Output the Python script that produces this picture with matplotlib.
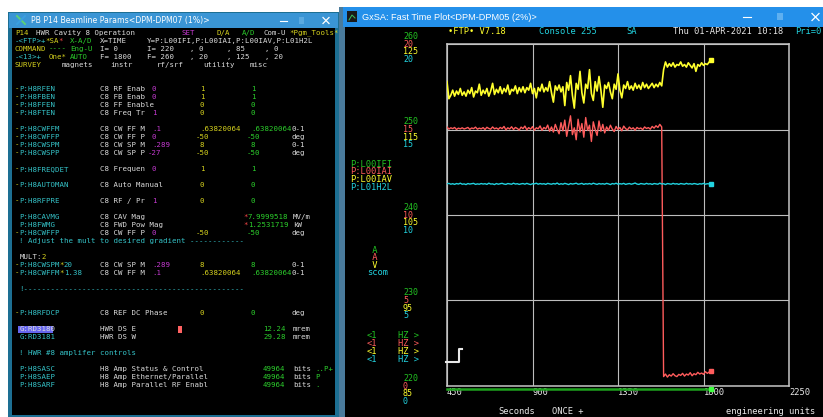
"""HWR cavity 8 parameter page beside the fast time plot of the L00 signals."""

import matplotlib.pyplot as plt
import numpy as np
from matplotlib import transforms
from matplotlib.patches import Rectangle

W_PX, H_PX = 823, 417
MONO = "DejaVu Sans Mono"

# Fast time plot samples, one every 10 s from t = 450 s
TIME_START = 450.0
TIME_STEP = 10.0

IAV_VOLTS = [
    120.6, 118.6, 119.0, 119.6, 118.9, 119.5, 119.1, 119.8, 119.0, 119.4,
    118.9, 119.6, 119.2, 119.9, 118.8, 119.5, 119.3, 120.3, 119.0, 119.6,
    119.2, 119.8, 118.9, 119.5, 120.4, 119.1, 119.7, 119.3, 120.0, 119.2,
    119.8, 119.4, 120.2, 119.1, 119.7, 119.5, 120.1, 119.2, 119.9, 119.4,
    120.0, 119.3, 119.9, 119.6, 120.4, 119.2, 119.8, 118.7, 119.9, 119.5,
    120.3, 119.4, 119.9, 119.5, 120.6, 119.3, 118.2, 120.1, 119.6, 120.2,
    119.4, 120.0, 117.8, 120.5, 119.6, 121.3, 119.0, 117.5, 120.4, 119.7,
    121.8, 119.3, 118.1, 120.3, 119.8, 122.0, 119.2, 118.4, 120.6, 119.5,
    121.2, 119.6, 117.6, 120.2, 119.8, 120.5, 119.4, 118.6, 120.3, 119.7,
    121.5, 119.6, 118.7, 120.2, 119.8, 120.6, 119.7, 120.1, 119.6, 120.4,
    119.8, 120.2, 119.7, 120.5, 119.9, 120.3, 119.8, 120.1, 120.4, 119.9,
    120.3, 120.0, 120.5, 120.1,
    122.0, 122.9, 122.3, 122.7, 122.4, 122.8, 122.3, 122.6, 122.5, 122.9,
    122.4, 122.6, 122.3, 122.8, 122.5, 122.2, 122.7, 121.8, 122.6, 122.4,
    122.8, 122.5, 122.7, 122.6, 122.9, 123.1,
]

IAI_AMPS = [
    15.15, 15.02, 15.10, 15.05, 15.12, 15.00, 15.08, 15.04, 15.10, 15.03,
    15.07, 15.12, 15.01, 15.09, 15.05, 15.14, 15.02, 15.08, 15.04, 15.11,
    15.00, 15.13, 15.06, 15.02, 15.15, 15.04, 15.09, 15.01, 15.12, 15.05,
    15.18, 14.98, 15.10, 15.03, 15.16, 15.00, 15.12, 15.06, 14.97, 15.14,
    15.05, 15.20, 14.98, 15.11, 15.02, 15.17, 14.96, 15.10, 15.04, 15.21,
    14.95, 15.12, 15.03, 15.26, 14.90, 15.15, 14.85, 15.30, 15.00, 14.75,
    15.40, 14.92, 15.55, 14.60, 15.20, 15.80, 14.70, 15.10, 14.40, 15.60,
    14.85, 15.35, 14.55, 15.70, 14.95, 15.25, 14.30, 15.45, 15.00, 14.65,
    15.50, 14.90, 15.30, 14.80, 15.15, 14.95, 15.25, 15.02, 14.88, 15.18,
    15.00, 15.12, 14.92, 15.20, 15.05, 14.98, 15.14, 15.03, 15.10, 14.96,
    15.12, 15.04, 15.09, 14.99, 15.15, 15.06, 15.11, 15.02, 15.18, 15.08,
    15.22, 15.12, 15.30, 15.15,
    0.55, 0.70, 0.52, 0.66, 0.58, 0.72, 0.60, 0.55, 0.68, 0.62,
    0.74, 0.58, 0.70, 0.64, 0.78, 0.60, 0.72, 0.66, 0.80, 0.70,
    0.76, 0.68, 0.84, 0.74, 0.82, 0.90,
]

H2L_SCOM = [
    11.82, 11.85, 11.80, 11.83, 11.79, 11.84, 11.81, 11.86, 11.80, 11.82,
    11.78, 11.84, 11.81, 11.83, 11.85, 11.79, 11.82, 11.80, 11.84, 11.81,
    11.83, 11.79, 11.86, 11.81, 11.82, 11.78, 11.84, 11.80, 11.83, 11.85,
    11.81, 11.79, 11.84, 11.82, 11.80, 11.86, 11.81, 11.83, 11.79, 11.82,
    11.84, 11.80, 11.85, 11.81, 11.78, 11.83, 11.82, 11.86, 11.80, 11.84,
    11.81, 11.83, 11.79, 11.85, 11.82, 11.80, 11.84, 11.81, 11.87, 11.79,
    11.83, 11.80, 11.85, 11.82, 11.78, 11.84, 11.81, 11.83, 11.86, 11.80,
    11.82, 11.85, 11.79, 11.83, 11.81, 11.84, 11.80, 11.86, 11.82, 11.79,
    11.84, 11.81, 11.83, 11.80, 11.85, 11.82, 11.78, 11.84, 11.81, 11.86,
    11.80, 11.83, 11.81, 11.85, 11.79, 11.82, 11.84, 11.80, 11.83, 11.87,
    11.81, 11.79, 11.84, 11.82, 11.80, 11.85, 11.81, 11.83, 11.79, 11.84,
    11.82, 11.80, 11.86, 11.81, 11.83, 11.78, 11.84, 11.82, 11.80, 11.85,
    11.81, 11.83, 11.79, 11.84, 11.82, 11.80, 11.85, 11.81, 11.83, 11.80,
    11.84, 11.82, 11.79, 11.83, 11.81, 11.85, 11.80, 11.83, 11.82, 11.84,
]

# IFI reads below the bottom of its scale, so it sits pinned under the frame
IFI_TIME = [450.0, 1840.0]
IFI_AMPS = [0.0, 0.0]

CHANNELS = ["P:L00IFI", "P:L00IAI", "P:L00IAV", "P:L01H2L"]
UNITS = [" A", " A", " V", "scom"]
RATES = ["<1", "<1", "<1", "<1"]
IFI_TICKS = [220, 230, 240, 250, 260]
IAI_TICKS = [0, 5, 10, 15, 20]
IAV_TICKS = [85, 95, 105, 115, 125]
H2L_TICKS = [0, 5, 10, 15, 20]
TIME_TICKS = [450, 900, 1350, 1800, 2250]

TR_GREEN = "#22c322"
TR_RED = "#ff5c5c"
TR_YELLOW = "#ffff2e"
TR_CYAN = "#22d3e0"

PANEL_COLORS = {
    "c": "#35c3c8",
    "g": "#2ccf2c",
    "y": "#d6d21e",
    "m": "#c43ad0",
    "w": "#dcdcdc",
    "r": "#ff4a4a",
}

PANEL_SIZE = 5.3
CW = 0.602 * PANEL_SIZE * 100 / 72  # monospace cell width in pixels

# parameter page: (row, x pixel, text, colour key)
N0 = 15.0
N1 = N0 + CW
PANEL = [
    (0, N0, "P14", "y"), (0, 36, "HWR Cavity 8 Operation", "w"), (0, 181.7, "SET", "m"),
    (0, 216.7, "D/A", "y"), (0, 241.7, "A/D", "g"), (0, 263.3, "Com-U", "w"),
    (0, 289, "*Pgm_Tools*", "y"),
    (1, N0, "-<FTP>+", "c"), (1, 45, "*SA", "y"), (1, 45 + 3 * CW, "*", "r"), (1, 70, "X-A/D", "g"),
    (1, 100, "X=TIME", "w"), (1, 147, "Y=P:L00IFI,P:L00IAI,P:L00IAV,P:L01H2L", "w"),
    (2, N0, "COMMAND", "y"), (2, 49, "----", "g"), (2, 70, "Eng-U", "g"), (2, 100, "I= 0", "w"),
    (2, 147, "I= 220", "w"), (2, 190, ", 0", "w"), (2, 227, ", 85", "w"), (2, 265, ", 0", "w"),
    (3, N0, "-<13>+", "c"), (3, 49, "One*", "y"), (3, 70, "AUTO", "g"), (3, 100, "F= 1800", "w"),
    (3, 147, "F= 260", "w"), (3, 190, ", 20", "w"), (3, 227, ", 125", "w"), (3, 265, ", 20", "w"),
    (4, N0, "SURVEY", "y"), (4, 62, "magnets", "w"), (4, 110, "instr", "w"),
    (4, 157, "rf/srf", "w"), (4, 203, "utility", "w"), (4, 250, "misc", "w"),
]

# rows of device readings: row, name, multiplier, description, set, D/A, A/D, units
DEVICES = [
    (7, "P:H8RFEN", "", "C8 RF Enab", "0", "1", "1", ""),
    (8, "P:H8FBEN", "", "C8 FB Enab", "0", "1", "1", ""),
    (9, "P:H8FFEN", "", "C8 FF Enable", "", "0", "0", ""),
    (10, "P:H8FTEN", "", "C8 Freq Tr", "1", "0", "0", ""),
    (12, "P:H8CWFFM", "", "C8 CW FF M", ".1", ".63820064", ".63820064", "0-1"),
    (13, "P:H8CWFFP", "", "C8 CW FF P", "0", "-50", "-50", "deg"),
    (14, "P:H8CWSPM", "", "C8 CW SP M", ".289", "8", "8", "0-1"),
    (15, "P:H8CWSPP", "", "C8 CW SP P", "-27", "-50", "-50", "deg"),
    (17, "P:H8FREQDET", "", "C8 Frequen", "0", "1", "1", ""),
    (19, "P:H8AUTOMAN", "", "C8 Auto Manual", "", "0", "0", ""),
    (21, "P:H8RFPRE", "", "C8 RF / Pr", "1", "0", "0", ""),
    (25, "P:H8CWFFP", "", "C8 CW FF P", "0", "-50", "-50", "deg"),
    (29, "P:H8CWSPM", "20", "C8 CW SP M", ".289", "8", "8", "0-1"),
    (30, "P:H8CWFFM", "1.38", "C8 CW FF M", ".1", ".63820064", ".63820064", "0-1"),
    (35, "P:H8RFDCP", "", "C8 REF DC Phase", "", "0", "0", "deg"),
]

READBACKS = [
    (23, "P:H8CAVMG", "C8 CAV Mag", "7.9999518", "MV/m"),
    (24, "P:H8FWMG", "C8 FWD Pow Mag", "1.2531719", "kW"),
]

PANEL += [
    (26, N1, "! Adjust the mult to desired gradient ------------", "c"),
    (28, N1, "MULT:", "w"), (28, N1 + 5 * CW, "2", "y"),
    (32, N1, "!" + "-" * 49, "c"),
    (37, N1, "G:RD3180", "w"), (37, 100, "HWR DS E", "w"), (37, 263, "12.24", "g"), (37, 293, "mrem", "w"),
    (38, N1, "G:RD3181", "c"), (38, 100, "HWR DS W", "w"), (38, 263, "29.28", "g"), (38, 293, "mrem", "w"),
    (40, N1, "! HWR #8 amplifer controls", "c"),
    (42, N1, "P:H8SASC", "c"), (42, 100, "H8 Amp Status & Control", "w"),
    (42, 263, "49964", "g"), (42, 293, "bits", "w"), (42, 315, "..P+", "g"),
    (43, N1, "P:H8SAEP", "c"), (43, 100, "H8 Amp Ethernet/Parallel", "w"),
    (43, 263, "49964", "g"), (43, 293, "bits", "w"), (43, 315, "P", "g"),
    (44, N1, "P:H8SARF", "c"), (44, 100, "H8 Amp Parallel RF Enabl", "w"),
    (44, 263, "49964", "g"), (44, 293, "bits", "w"), (44, 315, ".", "g"),
]


def signed(x, value):
    # a leading minus sign sits one cell left of the value column
    return x - CW if value.startswith("-") else x


for row, name, mult, desc, setv, dav, adv, unit in DEVICES:
    PANEL.append((row, N0, "-", "y"))
    PANEL.append((row, N1, name, "c"))
    if mult:
        PANEL.append((row, N1 + len(name) * CW, "*", "y"))
        PANEL.append((row, N1 + (len(name) + 1) * CW, mult, "c"))
    PANEL.append((row, 100, desc, "w"))
    if setv:
        PANEL.append((row, signed(152, setv), setv, "m"))
    PANEL.append((row, signed(200, dav), dav, "y"))
    PANEL.append((row, signed(251, adv), adv, "g"))
    if unit:
        PANEL.append((row, 292, unit, "w"))

for row, name, desc, value, unit in READBACKS:
    PANEL += [
        (row, N1, name, "c"), (row, 100, desc, "w"), (row, 243, "*", "r"),
        (row, 248, value, "g"), (row, 293, unit, "w"),
    ]


def px_text(ax, x, y, s, color, size, family=MONO, ha="left", **kw):
    return ax.text(x, y, s, color=color, fontsize=size, family=family,
                   ha=ha, va="center", **kw)


def box(ax, x0, y0, x1, y1, color):
    ax.add_patch(Rectangle((x0, y0), x1 - x0, y1 - y0, facecolor=color,
                           edgecolor="none", lw=0))


fig = plt.figure(figsize=(W_PX / 100, H_PX / 100), dpi=100, facecolor="white")
ov = fig.add_axes([0, 0, 1, 1])
ov.set_xlim(0, W_PX)
ov.set_ylim(H_PX, 0)
ov.axis("off")

# --- parameter page window ---
box(ov, 8, 12, 339, 417, "#1d6f93")
box(ov, 9, 13, 338, 28, "#3a95d5")
box(ov, 12, 28, 335, 415, "black")
ov.plot([17, 25], [16, 24], color="#5ad07a", lw=1.4)
ov.plot([17, 25], [24, 16], color="#3aa0e0", lw=1.4)
px_text(ov, 31, 20.5, "PB P14 Beamline Params<DPM-DPM07 (1%)>", "white", 5.6,
        family=["Liberation Sans Narrow", "DejaVu Sans"])
ov.plot([280, 287], [20.5, 20.5], color="white", lw=0.8)
box(ov, 299, 17, 304, 24, "#5aaae0")
ov.plot([323, 329], [17.5, 23.5], color="white", lw=0.9)
ov.plot([323, 329], [23.5, 17.5], color="white", lw=0.9)

box(ov, 18, 325.6, 53, 333.2, "#6666ee")
box(ov, 177.7, 325.7, 181.7, 332.7, "#ff6262")
for row, x, text, key in PANEL:
    px_text(ov, x, 32.7 + 8 * row, text, PANEL_COLORS[key], PANEL_SIZE)

# --- fast time plot window ---
box(ov, 339, 7, 345, 417, "#4a7b9c")
box(ov, 343, 7, W_PX, 27, "#2490ea")
box(ov, 345, 27, W_PX, H_PX, "black")
box(ov, 347, 11, 357, 22, "#1a1a1a")
ov.plot([349, 352, 355], [20, 15, 18], color="#3cc060", lw=0.7)
px_text(ov, 362, 17, "GxSA: Fast Time Plot<DPM-DPM05 (2%)>", "white", 6.6,
        family=["Liberation Sans", "DejaVu Sans"])
ov.plot([743, 751], [17, 17], color="white", lw=0.8)
box(ov, 777, 13, 783, 20, "#5fb0f0")
ov.plot([812, 819], [13.5, 20.5], color="white", lw=0.9)
ov.plot([812, 819], [20.5, 13.5], color="white", lw=0.9)

PLOT_SIZE = 6.3
px_text(ov, 448, 31, "\u2022FTP\u2022 V7.18", TR_YELLOW, PLOT_SIZE)
px_text(ov, 539, 31, "Console 255", TR_CYAN, PLOT_SIZE)
px_text(ov, 626, 31, "SA", TR_CYAN, PLOT_SIZE)
px_text(ov, 673, 31, "Thu 01-APR-2021 10:18", "#e8e8e8", PLOT_SIZE)
px_text(ov, 795, 31, "Pri=0", TR_CYAN, PLOT_SIZE)
px_text(ov, 498, 412, "Seconds", "#e8e8e8", PLOT_SIZE)
px_text(ov, 552, 412, "ONCE +", "#e8e8e8", PLOT_SIZE)
px_text(ov, 726, 412, "engineering units", "#e8e8e8", PLOT_SIZE)

colors = [TR_GREEN, TR_RED, TR_YELLOW, TR_CYAN]
for i, (name, unit, rate) in enumerate(zip(CHANNELS, UNITS, RATES)):
    px_text(ov, 350, 164 + 7.67 * i, name, colors[i], PLOT_SIZE)
    px_text(ov, 367, 250 + 7.5 * i, unit, colors[i], PLOT_SIZE)
    px_text(ov, 367, 336 + 8 * i, rate, colors[i], PLOT_SIZE)
    px_text(ov, 398, 336 + 8 * i, "HZ >", colors[i], PLOT_SIZE)

ax = fig.add_axes([447 / W_PX, (H_PX - 386) / H_PX, 342 / W_PX, 342 / H_PX])
ax.set_facecolor("black")
ax.set_xlim(TIME_TICKS[0], TIME_TICKS[-1])
ax.set_ylim(IFI_TICKS[0], IFI_TICKS[-1])
ax.set_xticks(TIME_TICKS)
ax.set_xticklabels([str(t) for t in TIME_TICKS])
ax.set_yticks(IFI_TICKS)
ax.set_yticklabels([])
ax.grid(color="#bdbdbd", lw=0.8)
ax.tick_params(length=0, pad=1.2, labelsize=PLOT_SIZE, labelcolor="#e8e8e8")
for lbl in ax.get_xticklabels():
    lbl.set_ha("left")
    lbl.set_fontfamily(MONO)
for spine in ax.spines.values():
    spine.set_color("#c4c4c4")
    spine.set_linewidth(1.1)

# trigger marker in the lower left corner, straddling the frame
ax.plot([446, 459, 459, 462], [362, 362, 348.5, 348.5], color="#e8e8e8", lw=1.5,
        transform=ov.transData, clip_on=False, zorder=5)

# IFI below range: drawn on the floor of its scale, a few pixels under the frame
ifi_shift = transforms.offset_copy(ax.transData, fig, y=-3.5, units="dots")
ifi = np.clip(IFI_AMPS, IFI_TICKS[0], IFI_TICKS[-1])
ax.plot(IFI_TIME, ifi, color="#1ea21e", lw=1.8, transform=ifi_shift, clip_on=False)
ax.plot(IFI_TIME[-1], ifi[-1], "s", ms=2.2, color="#40ff40", transform=ifi_shift,
        clip_on=False)

channel_axes = [ax]
for ticks in (IAI_TICKS, IAV_TICKS, H2L_TICKS):
    tw = ax.twinx()
    tw.set_ylim(ticks[0], ticks[-1])
    tw.set_yticks([])
    tw.patch.set_visible(False)
    for spine in tw.spines.values():
        spine.set_visible(False)
    channel_axes.append(tw)

ax_iai, ax_iav, ax_h2l = channel_axes[1:]
for tax, values, color, lw in ((ax_h2l, H2L_SCOM, TR_CYAN, 1.0),
                               (ax_iai, IAI_AMPS, TR_RED, 1.0),
                               (ax_iav, IAV_VOLTS, TR_YELLOW, 1.2)):
    t = TIME_START + TIME_STEP * np.arange(len(values))
    tax.plot(t, values, color=color, lw=lw)
    tax.plot(t[-1], values[-1], "s", ms=2.6, color=color)

# scale labels for every channel, stacked at each horizontal grid line
label_shift = [-7.8, 0.3, 7.8, 15.3]
for i, (tax, ticks) in enumerate(zip(channel_axes,
                                     (IFI_TICKS, IAI_TICKS, IAV_TICKS, H2L_TICKS))):
    trans = transforms.blended_transform_factory(ov.transData, tax.transData)
    trans = transforms.offset_copy(trans, fig, y=-label_shift[i], units="dots")
    for v in ticks:
        ov.text(403, v, str(v), transform=trans, color=colors[i], fontsize=6.0,
                family=MONO, ha="left", va="center")

fig.savefig("out.png", dpi=100, facecolor="white")
